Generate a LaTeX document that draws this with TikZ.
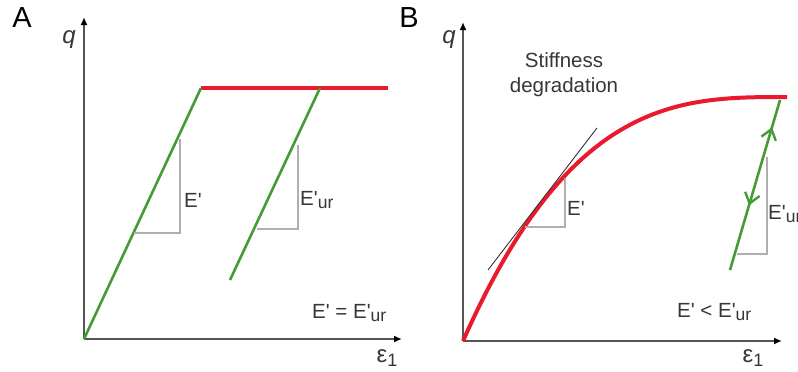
\documentclass[tikz,border=0pt]{standalone}
\usepackage{fontspec}
\setmainfont{Liberation Sans}[Ligatures=TeXOff]
\usetikzlibrary{arrows.meta,decorations.markings}
\definecolor{axisgray}{RGB}{85,85,85}
\definecolor{txtgray}{RGB}{55,55,55}
\definecolor{trigray}{RGB}{175,175,175}
\definecolor{cgreen}{RGB}{70,155,55}
\definecolor{cred}{RGB}{235,25,45}
\newcommand\urs{\raisebox{-3.5pt}{\fontsize{17.5}{17.5}\selectfont ur}}
\newcommand\epsone{{\fontsize{24}{24}\selectfont ε}\raisebox{-4pt}{\fontsize{18}{18}\selectfont 1}}
\begin{document}
\begin{tikzpicture}[x=1pt,y=-1pt,
  axis/.style={draw=axisgray,line width=2.4pt,-{Latex[length=8pt,width=7pt,fill=black,color=black]}},
  gline/.style={draw=cgreen,line width=2.6pt},
  rline/.style={draw=cred,line width=4pt},
  tri/.style={draw=trigray,line width=1.2pt},
  tan/.style={draw=black!80,line width=0.9pt},
  lbl/.style={text=txtgray,font=\fontsize{20.5}{23}\selectfont,inner sep=0pt},
  panel/.style={text=black,font=\fontsize{29}{32}\selectfont,inner sep=0pt},
  qlbl/.style={text=txtgray,font=\fontsize{24}{24}\selectfont\itshape,inner sep=0pt}]
\useasboundingbox (0,0) rectangle (798,372);
\fill[white] (0,0) rectangle (798,372);

% ---------- Panel A ----------
\node[panel] (A) at (22,18) {A};
\coordinate (oA) at (84,339);
\coordinate (yA) at (84,17);
\coordinate (xA) at (402,339);
\draw[axis] (oA) -- (yA);
\draw[axis] (oA) -- (xA);
\node[qlbl] (qA) at (69,40) {q};
\node[lbl] (eA) at (387,358) {\epsone};

\coordinate (gA1) at (201,88);
\coordinate (rA2) at (388,88);
\coordinate (gB1) at (320,88);
\coordinate (gB2) at (230,280);
\draw[rline] (gA1) -- (rA2);
\draw[gline] (oA) -- (gA1);
\draw[gline] (gB1) -- (gB2);
% triangles
\coordinate (tA1) at (134,233);
\coordinate (tA2) at (180,233);
\coordinate (tA3) at (180,139);
\draw[tri] (tA1) -- (tA2) -- (tA3);
\coordinate (tB1) at (257,229);
\coordinate (tB2) at (298,229);
\coordinate (tB3) at (298,145);
\draw[tri] (tB1) -- (tB2) -- (tB3);
\node[lbl,anchor=west] (EA) at (184,200) {E'};
\node[lbl,anchor=west] (EurA) at (300,200) {E'\urs};
\node[lbl,anchor=base west] (eqA) at (312,318) {E' = E'\urs};

% ---------- Panel B ----------
\node[panel] (B) at (409,18) {B};
\coordinate (oB) at (463,341);
\coordinate (yB) at (463,22);
\coordinate (xB) at (782,341);
\draw[axis] (oB) -- (yB);
\draw[axis] (oB) -- (xB);
\node[qlbl] (qB) at (449,40) {q};
\node[lbl] (eB) at (753,358) {\epsone};

\node[lbl,align=center] (stiff) at (564,75) {Stiffness\\[2pt]degradation};

\coordinate (rEnd) at (787,97);
\draw[rline] (oB) .. controls (571,97) and (679,97) .. (rEnd);
\coordinate (tg1) at (488,270);
\coordinate (tg2) at (597,128);
\draw[tan] (tg1) -- (tg2);
\coordinate (tC1) at (525,227);
\coordinate (tC2) at (565,227);
\coordinate (tC3) at (565,178);
\draw[tri] (tC1) -- (tC2) -- (tC3);
\node[lbl,anchor=west] (EB) at (567,208) {E'};

\coordinate (gC1) at (730,270);
\coordinate (gC2) at (780,100);
\coordinate (tD1) at (737,254);
\coordinate (tD2) at (767,254);
\coordinate (tD3) at (767,157);
\draw[tri] (tD1) -- (tD2) -- (tD3);
\draw[gline,postaction={decorate},decoration={markings,
   mark=at position 0.84 with {\arrow[cgreen,line width=2.4pt]{Straight Barb[length=10pt,width=15pt]}},
   mark=at position 0.38 with {\arrowreversed[cgreen,line width=2.4pt]{Straight Barb[length=10pt,width=15pt]}}}]
   (gC1) -- (gC2);
\node[lbl,anchor=west] (EurB) at (768,214) {E'\urs};
\node[lbl,anchor=base west] (ltB) at (677,317) {E' < E'\urs};
\end{tikzpicture}
\end{document}
